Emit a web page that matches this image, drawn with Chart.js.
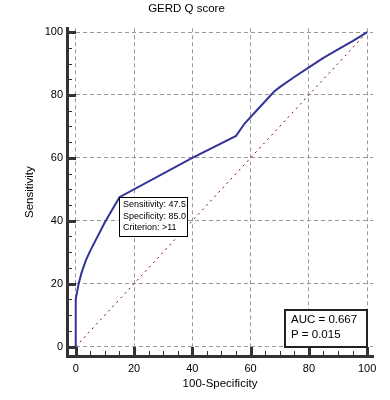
<!DOCTYPE html>
<html>
<head>
<meta charset="utf-8">
<script src="https://cdn.jsdelivr.net/npm/chart.js@4/dist/chart.umd.min.js"></script>
<style>
  html,body{margin:0;padding:0;background:#fff;}
  #wrap{width:390px;height:400px;}
</style>
</head>
<body>
<div id="wrap"><canvas id="rocChart" width="390" height="400"></canvas></div>
<script>
// ROC curve (x = 100-Specificity, y = Sensitivity)
const rocX = [0, 0, 1, 2, 3.5, 5, 10, 15, 40, 55, 58, 62, 65, 68, 70, 75, 80, 85, 90, 95, 100];
const rocY = [0, 15, 20, 23.5, 27.5, 30.5, 39.5, 47.5, 60, 67, 71, 75, 78, 81, 82.5, 85.7, 88.8, 91.8, 94.5, 97.1, 100];
const refX = [0, 100];
const refY = [0, 100];
const majorTicks = [0, 20, 40, 60, 80, 100];
const minorTicks = [5, 10, 15, 25, 30, 35, 45, 50, 55, 65, 70, 75, 85, 90, 95];
const criterionPoint = {x: 15, y: 47.5};
const criterionLines = ['Sensitivity: 47.5', 'Specificity: 85.0', 'Criterion: >11'];
const aucLines = ['AUC = 0.667', 'P = 0.015'];

const FONT = '"Liberation Sans", Arial, sans-serif';
const toPoints = (xs, ys) => xs.map((x, i) => ({x: x, y: ys[i]}));

// tick marks drawn inward from the axis lines, as in the original
const innerTicks = {
  id: 'innerTicks',
  afterDraw(chart){
    const {ctx, scales:{x, y}} = chart;
    const ax = y.right, ay = x.top;
    ctx.save();
    ctx.strokeStyle = '#333';
    const mark = (vals, len, w) => {
      ctx.lineWidth = w;
      vals.forEach(v => {
        const px = Math.round(x.getPixelForValue(v)) + (w % 2 ? 0.5 : 0);
        ctx.beginPath(); ctx.moveTo(px, ay); ctx.lineTo(px, ay - len); ctx.stroke();
        const py = Math.round(y.getPixelForValue(v)) + (w % 2 ? 0.5 : 0);
        ctx.beginPath(); ctx.moveTo(ax, py); ctx.lineTo(ax + len, py); ctx.stroke();
      });
    };
    mark(minorTicks, 5, 1);
    mark(majorTicks, 9, 3);
    ctx.restore();
  }
};

// criterion box and AUC box
const notes = {
  id: 'notes',
  afterDraw(chart){
    const {ctx, scales:{x, y}} = chart;
    ctx.save();
    // criterion box
    let bx = Math.round(x.getPixelForValue(criterionPoint.x)) + 0.5;
    let by = Math.round(y.getPixelForValue(criterionPoint.y)) + 0.5;
    ctx.fillStyle = '#fff';
    ctx.strokeStyle = '#000';
    ctx.lineWidth = 1;
    ctx.fillRect(bx, by, 68, 39);
    ctx.strokeRect(bx, by, 68, 39);
    ctx.fillStyle = '#000';
    ctx.font = '9px ' + FONT;
    ctx.textBaseline = 'middle';
    criterionLines.forEach((t, i) => ctx.fillText(t, bx + 3.5, by + 7.5 + i * 11.3));
    // AUC box
    const right = x.getPixelForValue(100), bottom = y.getPixelForValue(0);
    const w = 82, h = 37;
    const ax = Math.round(right - w), ay = Math.round(bottom - h);
    ctx.fillStyle = '#fff';
    ctx.fillRect(ax, ay, w, h);
    ctx.lineWidth = 2;
    ctx.strokeStyle = '#222';
    ctx.strokeRect(ax, ay, w, h);
    ctx.fillStyle = '#000';
    ctx.font = '11.5px ' + FONT;
    aucLines.forEach((t, i) => ctx.fillText(t, ax + 6, ay + 10 + i * 15));
    ctx.restore();
  }
};

function axisOpts(min, max, title, isY){
  return {
    type: 'linear',
    min: min,
    max: max,
    afterBuildTicks: s => { s.ticks = majorTicks.map(v => ({value: v})); },
    afterFit: s => { if(isY) s.width = 67; else s.height = 44; },
    grid: {color: '#999', lineWidth: 1, drawTicks: false},
    border: {display: true, color: '#333', width: 3, dash: [4, 3]},
    ticks: {
      color: '#000',
      font: {family: FONT, size: 11},
      padding: isY ? 4 : 6,
      autoSkip: false,
      maxRotation: 0
    },
    title: {
      display: true,
      text: title,
      color: '#000',
      font: {family: FONT, size: 11.5},
      padding: isY ? {top: 23} : {bottom: 9}
    }
  };
}

new Chart(document.getElementById('rocChart').getContext('2d'), {
  type: 'scatter',
  data: {
    datasets: [
      {
        label: 'ROC',
        data: toPoints(rocX, rocY),
        showLine: true,
        borderColor: '#333399',
        borderWidth: 2,
        pointRadius: 0,
        tension: 0,
        order: 1
      },
      {
        label: 'Reference',
        data: toPoints(refX, refY),
        showLine: true,
        borderColor: '#8b0000',
        borderWidth: 1,
        borderDash: [2, 4],
        pointRadius: 0,
        order: 2
      }
    ]
  },
  options: {
    responsive: false,
    animation: false,
    layout: {padding: {right: 17, top: 0, left: 0, bottom: 0}},
    plugins: {
      legend: {display: false},
      tooltip: {enabled: false},
      title: {
        display: true,
        text: 'GERD Q score',
        color: '#000',
        font: {family: FONT, size: 11.5, weight: 'normal'},
        padding: {top: 2, bottom: 12.5}
      }
    },
    scales: {
      x: axisOpts(-3, 102, '100-Specificity', false),
      y: axisOpts(-3, 101.2, 'Sensitivity', true)
    }
  },
  plugins: [innerTicks, notes]
});
</script>
</body>
</html>
